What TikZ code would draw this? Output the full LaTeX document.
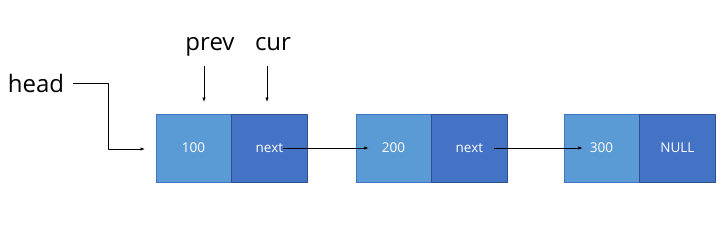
\documentclass[tikz,border=0pt]{standalone}
\usepackage{fontspec}
\setmainfont{Open Sans}
\usepackage{tikz}
\usetikzlibrary{arrows.meta, positioning}

\definecolor{valblue}{HTML}{5B9BD5}
\definecolor{nextblue}{HTML}{4472C4}
\definecolor{edgeblue}{HTML}{2F528F}

\begin{document}
\begin{tikzpicture}[x=1pt, y=-1pt, line join=round,
    valbox/.style={draw=nextblue, fill=valblue, text=white, inner sep=0pt,
        minimum width=75pt, minimum height=68pt, font=\fontsize{13.5}{15}\selectfont},
    nextbox/.style={valbox, draw=edgeblue, fill=nextblue, minimum width=76pt},
    varlabel/.style={inner sep=0pt, font=\fontsize{24}{28}\selectfont},
    ptr/.style={-{Latex[length=4.5pt, width=3.5pt]}, line width=0.8pt}]

    % Canvas of the reference (726 x 231 px)
    \useasboundingbox (0,0) rectangle (726,231);

    % Nodes of the list: value part and next part
    \node[valbox] (v1) at (193.5,148) {100};
    \node[nextbox, right=0pt of v1] (n1) {next};
    \node[valbox] (v2) at (393.5,148) {200};
    \node[nextbox, right=0pt of v2] (n2) {next};
    \node[valbox] (v3) at (601.5,148) {300};
    \node[nextbox, right=0pt of v3] (n3) {NULL};

    % Variable names
    \node[varlabel] (head) at (36,83.5) {head};
    \node[varlabel] (prev) at (210,47) {prev};
    \node[varlabel] (cur) at (273,44) {cur};

    % head points to the first node
    \coordinate (headBend) at (108,149);
    \coordinate (headTip) at (145,149);
    \draw[ptr] ([xshift=9pt]head.east) -| (headBend) -- (headTip);

    % prev and cur pointers
    \coordinate (prevTip) at (204,102);
    \coordinate (curTip) at (267,102);
    \draw[ptr] (prevTip |- 0,66) -- (prevTip);
    \draw[ptr] (curTip |- 0,66) -- (curTip);

    % Links between nodes
    \draw[ptr] ([xshift=14pt]n1.center) -- ([xshift=13pt]v2.west);
    \draw[ptr] ([xshift=25pt]n2.center) -- ([xshift=19pt]v3.west);

\end{tikzpicture}
\end{document}
